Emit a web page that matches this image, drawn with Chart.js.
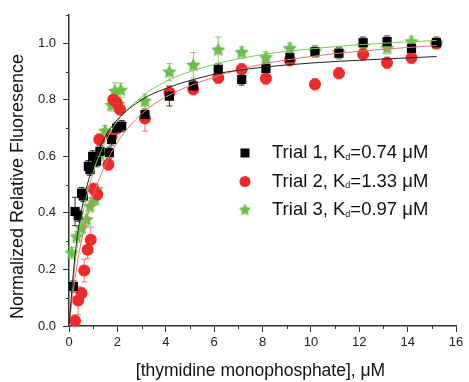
<!DOCTYPE html>
<html><head><meta charset="utf-8">
<script src="https://cdn.jsdelivr.net/npm/chart.js@4.4.1/dist/chart.umd.min.js"></script>
<style>html,body{margin:0;padding:0;background:#fff;}#wrap{width:469px;height:382px;}</style>
</head><body><div id="wrap"><canvas id="c" width="469" height="382"></canvas></div>
<script>
// ---- data ----
const t1x = [0.18,0.25,0.38,0.52,0.59,0.80,0.87,0.98,1.14,1.28,1.67,1.76,1.97,2.18,3.14,4.15,5.14,6.17,7.14,8.14,9.13,10.17,11.16,12.16,13.15,14.16,15.19];
const t1y = [0.14,0.405,0.39,0.47,0.46,0.565,0.553,0.60,0.583,0.618,0.613,0.66,0.70,0.707,0.748,0.813,0.849,0.908,0.872,0.911,0.949,0.97,0.965,1.002,1.006,0.982,1.002];
const t1e = [0.02,0.05,0.02,0.02,0.02,0.02,0.02,0.02,0.02,0.02,0.02,0.02,0.02,0.02,0.02,0.035,0.02,0.02,0.02,0.02,0.02,0.02,0.02,0.02,0.02,0.02,0.02];
const t2x = [0.25,0.38,0.52,0.63,0.77,0.90,1.00,1.17,1.25,1.63,1.76,1.83,1.97,2.11,3.14,4.15,5.14,6.17,7.14,8.14,9.13,10.17,11.16,12.16,13.15,14.16,15.19];
const t2y = [0.019,0.09,0.116,0.196,0.27,0.305,0.485,0.465,0.66,0.571,0.671,0.80,0.79,0.766,0.734,0.825,0.837,0.878,0.908,0.875,0.94,0.855,0.894,0.961,0.931,0.949,1.0];
const t2e = [0.02,0.05,0.02,0.04,0.03,0.045,0.02,0.02,0.02,0.02,0.02,0.02,0.02,0.02,0.045,0.025,0.02,0.02,0.02,0.02,0.02,0.02,0.02,0.02,0.02,0.02,0.02];
const t3x = [0.11,0.32,0.52,0.73,0.87,1.07,1.14,1.28,1.49,1.76,1.90,2.04,2.14,3.14,4.15,5.14,6.17,7.14,8.14,9.13,10.17,11.16,12.16,13.15,14.16,15.19];
const t3y = [0.258,0.315,0.346,0.376,0.423,0.447,0.482,0.606,0.689,0.78,0.83,0.784,0.834,0.795,0.898,0.922,0.976,0.967,0.949,0.981,0.97,0.967,0.99,0.982,1.005,1.0];
const t3e = [0.02,0.02,0.02,0.02,0.02,0.02,0.02,0.02,0.02,0.02,0.03,0.02,0.025,0.025,0.03,0.045,0.046,0.02,0.02,0.02,0.02,0.02,0.02,0.02,0.02,0.02];
// fitted curves
const fitX  = [0,0.25,0.5,1,1.5,2,3,4,6,8,10,12,15.2];
const fit1Y = [0,0.25,0.40,0.57,0.67,0.73,0.80,0.84,0.89,0.915,0.93,0.94,0.953];
const fit2Y = [0,0.17,0.295,0.46,0.57,0.65,0.75,0.81,0.88,0.926,0.953,0.972,0.992];
const fit3Y = [0,0.22,0.365,0.545,0.65,0.725,0.81,0.865,0.925,0.96,0.98,0.995,1.01];
const xTicks = [0,2,4,6,8,10,12,14,16];
const yTicks = [0,0.2,0.4,0.6,0.8,1.0];
const xMinor = [1,3,5,7,9,11,13,15];
const yMinor = [0.1,0.3,0.5,0.7,0.9,1.1];
const legendLabels = [["Trial 1, K","d","=0.74 \u03bcM"],["Trial 2, K","d","=1.33 \u03bcM"],["Trial 3, K","d","=0.97 \u03bcM"]];
const xTitle = "[thymidine monophosphate], \u03bcM";
const yTitle = "Normalized Relative Fluoresence";

const BLACK='#000000', RED='#ee2a2a', GREEN='#6cbf4a';
const FONT='"Liberation Sans", Arial, sans-serif';

function starImg(r, color){
  const s = Math.ceil(r*2+2), c = document.createElement('canvas');
  c.width = s; c.height = s;
  const g = c.getContext('2d'); g.fillStyle = color; g.beginPath();
  for(let i=0;i<10;i++){
    const rr = i%2===0 ? r : r*0.5, a = -Math.PI/2 + i*Math.PI/5;
    const px = s/2 + rr*Math.cos(a), py = s/2 + rr*Math.sin(a);
    i===0 ? g.moveTo(px,py) : g.lineTo(px,py);
  }
  g.closePath(); g.fill(); return c;
}
const starBig = starImg(7.5, GREEN), starLeg = starImg(6.5, GREEN);

const pts = (xs, ys) => xs.map((x,i)=>({x:x, y:ys[i]}));

const errPlugin = {
  id:'err',
  beforeDatasetsDraw(chart){
    const ctx = chart.ctx, xs = chart.scales.x, ys = chart.scales.y;
    const sets = [[t1x,t1y,t1e,'#333333'],[t2x,t2y,t2e,'#f07a7a'],[t3x,t3y,t3e,'#86cf6c']];
    ctx.save(); ctx.lineWidth = 1;
    sets.forEach(([X,Y,E,col])=>{
      ctx.strokeStyle = col;
      X.forEach((x,i)=>{
        const px = xs.getPixelForValue(x), p1 = ys.getPixelForValue(Y[i]-E[i]), p2 = ys.getPixelForValue(Y[i]+E[i]);
        ctx.beginPath(); ctx.moveTo(px,p1); ctx.lineTo(px,p2);
        ctx.moveTo(px-3,p1); ctx.lineTo(px+3,p1); ctx.moveTo(px-3,p2); ctx.lineTo(px+3,p2); ctx.stroke();
      });
    });
    ctx.restore();
  }
};

const decoPlugin = {
  id:'deco',
  afterDraw(chart){
    const ctx = chart.ctx, xs = chart.scales.x, ys = chart.scales.y, a = chart.chartArea;
    ctx.save();
    // minor ticks
    ctx.strokeStyle = '#333'; ctx.lineWidth = 1;
    xMinor.forEach(v=>{ const p = Math.round(xs.getPixelForValue(v))+0.5; ctx.beginPath(); ctx.moveTo(p,a.bottom); ctx.lineTo(p,a.bottom+3); ctx.stroke(); });
    yMinor.forEach(v=>{ const p = Math.round(ys.getPixelForValue(v))+0.5; ctx.beginPath(); ctx.moveTo(a.left,p); ctx.lineTo(a.left-3,p); ctx.stroke(); });
    // axis titles
    ctx.fillStyle = '#111'; ctx.textAlign='center'; ctx.textBaseline='middle';
    ctx.font = '17.5px '+FONT;
    ctx.fillText(xTitle, 260.5, 371);
    ctx.font = '18px '+FONT;
    ctx.save(); ctx.translate(18.5, 186.5); ctx.rotate(-Math.PI/2); ctx.fillText(yTitle, 0, 0); ctx.restore();
    // legend
    const rows = [153, 181.5, 210];
    rows.forEach((ry,i)=>{
      const mx = 245;
      if(i===0){ ctx.fillStyle = BLACK; ctx.fillRect(mx-4.5, ry-4.5, 9, 9); }
      if(i===1){ ctx.fillStyle = RED; ctx.beginPath(); ctx.arc(mx, ry, 5.5, 0, Math.PI*2); ctx.fill(); }
      if(i===2){ ctx.drawImage(starLeg, mx-starLeg.width/2, ry-starLeg.height/2); }
      ctx.fillStyle = '#111'; ctx.textAlign='left'; ctx.textBaseline='middle';
      let tx = 272;
      ctx.font = '18.5px '+FONT; ctx.fillText(legendLabels[i][0], tx, ry); tx += ctx.measureText(legendLabels[i][0]).width;
      ctx.font = '9px '+FONT; ctx.fillText(legendLabels[i][1], tx, ry+4.5); tx += ctx.measureText(legendLabels[i][1]).width;
      ctx.font = '18.5px '+FONT; ctx.fillText(legendLabels[i][2], tx, ry);
    });
    ctx.restore();
  }
};

new Chart(document.getElementById('c'), {
  type:'scatter',
  data:{ datasets:[
    {data:pts(fitX,fit1Y), showLine:true, borderColor:'#222', borderWidth:1, pointRadius:0, cubicInterpolationMode:'monotone'},
    {data:pts(fitX,fit2Y), showLine:true, borderColor:'#f07070', borderWidth:1, pointRadius:0, cubicInterpolationMode:'monotone'},
    {data:pts(fitX,fit3Y), showLine:true, borderColor:'#7acb5e', borderWidth:1, pointRadius:0, cubicInterpolationMode:'monotone'},
    {data:pts(t1x,t1y), pointStyle:'rect', pointRadius:6.5, backgroundColor:BLACK, borderColor:BLACK, borderWidth:0},
    {data:pts(t2x,t2y), pointStyle:'circle', pointRadius:6, backgroundColor:RED, borderColor:RED, borderWidth:0},
    {data:pts(t3x,t3y), pointStyle:starBig, backgroundColor:GREEN, borderWidth:0}
  ]},
  options:{
    responsive:false, animation:false,
    layout:{padding:{top:15, right:13, left:0, bottom:0}},
    plugins:{legend:{display:false}, tooltip:{enabled:false}},
    datasets:{scatter:{clip:false}},
    scales:{
      x:{type:'linear', min:0, max:16,
        afterBuildTicks:s=>{ s.ticks = xTicks.map(v=>({value:v})); },
        afterFit:s=>{ s.height = 56; },
        grid:{drawOnChartArea:false, tickLength:6, color:'#333', tickWidth:1},
        border:{display:true, color:'#333', width:1.5},
        ticks:{color:'#222', font:{family:FONT, size:13}, padding:3, maxRotation:0}
      },
      y:{type:'linear', min:0, max:1.1,
        afterBuildTicks:s=>{ s.ticks = yTicks.map(v=>({value:v})); },
        afterFit:s=>{ s.width = 69; },
        grid:{drawOnChartArea:false, tickLength:6, color:'#333', tickWidth:1},
        border:{display:true, color:'#333', width:1.5},
        ticks:{color:'#222', font:{family:FONT, size:13}, padding:7, callback:v=>v.toFixed(1)}
      }
    }
  },
  plugins:[errPlugin, decoPlugin]
});
</script></body></html>
